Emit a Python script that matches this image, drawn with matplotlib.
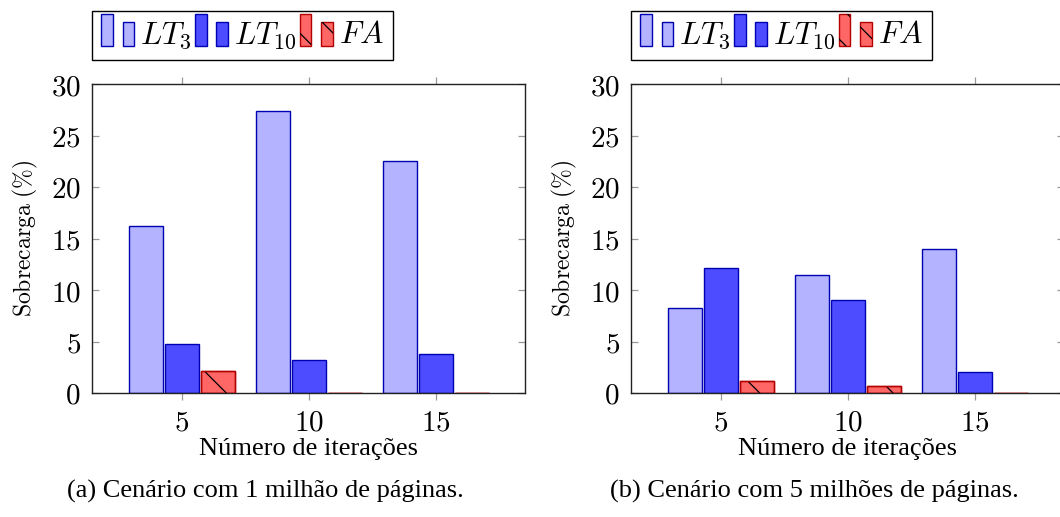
import matplotlib
matplotlib.use("Agg")
import matplotlib.pyplot as plt
from matplotlib.patches import Rectangle
from matplotlib.legend_handler import HandlerBase
import numpy as np

plt.rcParams['mathtext.fontset'] = 'cm'
plt.rcParams['font.serif'] = ['Liberation Serif', 'DejaVu Serif']
plt.rcParams['hatch.linewidth'] = 0.9

# iterations and overhead (%) per scenario
iteracoes = [5, 10, 15]
lt3_1m = [16.2, 27.4, 22.5]
lt10_1m = [4.8, 3.2, 3.8]
fa_1m = [2.1, 0.0, 0.0]

lt3_5m = [8.3, 11.5, 14.0]
lt10_5m = [12.1, 9.0, 2.0]
fa_5m = [1.2, 0.7, 0.0]

series_names = [r'$LT_3$', r'$LT_{10}$', r'$FA$']
fills = ['#b3b3ff', '#4d4dff', '#ff6666']
edges = ['#0000b3', '#0000b3', '#b30000']
captions = ['(a) Cenário com 1 milhão de páginas.',
            '(b) Cenário com 5 milhões de páginas.']

BAR_W = 1.34
SHIFT = 1.42


class TwoBarHandler(HandlerBase):
    """pgfplots-style ybar legend image: a tall bar and a short one."""
    def __init__(self, fc, ec, hatch=None):
        super().__init__()
        self.fc, self.ec, self.hatch = fc, ec, hatch

    def create_artists(self, legend, orig_handle, xdescent, ydescent,
                       width, height, fontsize, trans):
        bw = width * 0.35
        h1 = height * 1.45
        h2 = height * 1.08
        y0 = -ydescent - height * 0.12
        arts = []
        for x, h in [(0, h1), (width - bw, h2)]:
            r = Rectangle((x - xdescent, y0), bw, h, facecolor=self.fc,
                          edgecolor=self.ec, lw=1.0, transform=trans)
            arts.append(r)
            if self.hatch:
                r2 = Rectangle((x - xdescent, y0), bw, h, facecolor='none',
                               edgecolor='black', hatch=self.hatch, lw=0,
                               transform=trans)
                arts.append(r2)
        return arts


def draw_panel(ax, series):
    x = np.array(iteracoes, dtype=float)
    handles = []
    for i, vals in enumerate(series):
        pos = x + (i - 1) * SHIFT
        b = ax.bar(pos, vals, width=BAR_W, color=fills[i], edgecolor=edges[i],
                   linewidth=1.0, zorder=2)
        if i == 2:
            ax.bar(pos, vals, width=BAR_W, color='none', edgecolor='black',
                   hatch='\\', linewidth=0, zorder=3)
            ax.bar(pos, vals, width=BAR_W, color='none', edgecolor=edges[i],
                   linewidth=1.0, zorder=4)
        handles.append(b)

    ax.set_xlim(1.46, 18.5)
    ax.set_ylim(0, 30)
    ax.set_xticks(iteracoes, labels=[f'${v}$' for v in iteracoes])
    ax.set_yticks(range(0, 31, 5), labels=[f'${v}$' for v in range(0, 31, 5)])
    ax.tick_params(axis='x', direction='out', length=5, width=0.9,
                   color='#999999', labelsize=21, pad=6, top=True)
    ax.tick_params(axis='y', direction='in', length=5, width=0.9,
                   color='#999999', labelsize=21, pad=8, right=True)
    for s in ax.spines.values():
        s.set_color('#222222')
        s.set_linewidth(1.0)

    ax.set_xlabel('Número de iterações', family='serif',
                  fontsize=19, labelpad=1)
    ax.set_ylabel(r'$\mathrm{Sobrecarga\ (\%)}$', fontsize=17, labelpad=8)

    hmap = {handles[i]: TwoBarHandler(fills[i], edges[i],
                                      '\\' if i == 2 else None)
            for i in range(3)}
    ax.legend(handles, series_names, handler_map=hmap, loc='lower left',
              bbox_to_anchor=(0, 1.078), borderaxespad=0, ncol=3,
              fontsize=22.5, frameon=True, fancybox=False, edgecolor='black',
              handlelength=1.05, handletextpad=0.2, columnspacing=0.1,
              borderpad=0.3, framealpha=1)


fig = plt.figure(figsize=(10.6, 5.17), dpi=100)
ax1 = fig.add_axes([92 / 1060, 1 - 393 / 517, 433 / 1060, 309 / 517])
ax2 = fig.add_axes([631 / 1060, 1 - 393 / 517, 433 / 1060, 309 / 517])

draw_panel(ax1, [lt3_1m, lt10_1m, fa_1m])
draw_panel(ax2, [lt3_5m, lt10_5m, fa_5m])

fig.text(265 / 1060, 1 - 491 / 517, captions[0], family='serif',
         fontsize=19, ha='center', va='center')
fig.text(814 / 1060, 1 - 491 / 517, captions[1], family='serif',
         fontsize=19, ha='center', va='center')

fig.savefig('out.png', dpi=100)
